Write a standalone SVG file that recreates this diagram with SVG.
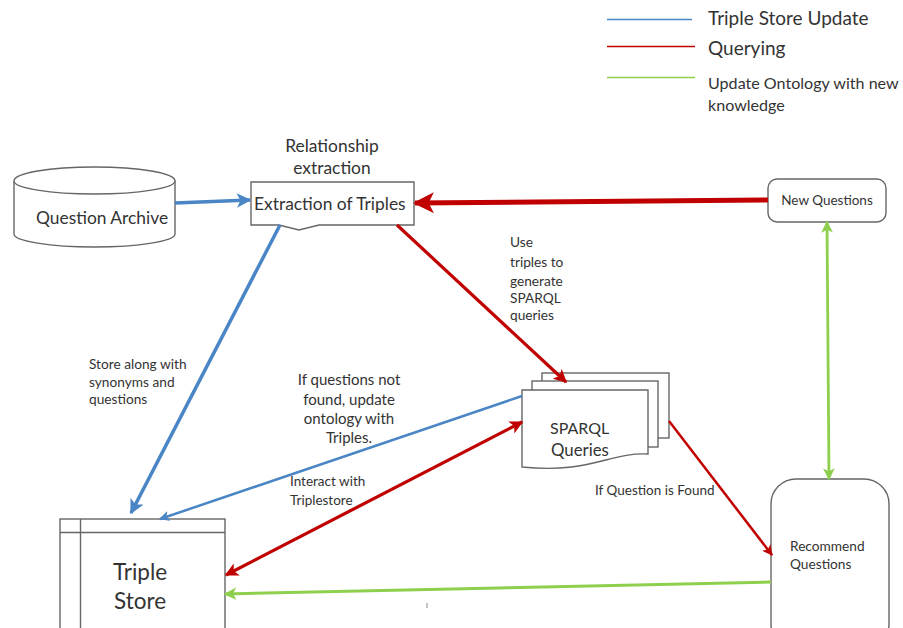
<svg xmlns="http://www.w3.org/2000/svg" width="903" height="628" viewBox="0 0 903 628">
<style>
text{font-family:"Lato","Carlito","Open Sans",sans-serif;fill:#333}
.n{fill:#fff;stroke:#666;stroke-width:1.4}
.c{fill:none}
.b{stroke:#4a86c5}.r{stroke:#c00000}.g{stroke:#8ed04e}
.leg{stroke-width:1.5}
.sm{font-size:13.7px}
.md{font-size:17.4px}
</style>
<defs>
<marker id="ab" viewBox="0 0 10 10" refX="9" refY="5" markerWidth="4.2" markerHeight="4.2" markerUnits="strokeWidth" orient="auto-start-reverse"><path d="M0 0L10 5L0 10L2.5 5Z" fill="#4a86c5"/></marker>
<marker id="ar" viewBox="0 0 10 10" refX="9" refY="5" markerWidth="4.2" markerHeight="4.2" markerUnits="strokeWidth" orient="auto-start-reverse"><path d="M0 0L10 5L0 10L2.5 5Z" fill="#c00000"/></marker>
<marker id="ag" viewBox="0 0 10 10" refX="9" refY="5" markerWidth="4.2" markerHeight="4.2" markerUnits="strokeWidth" orient="auto-start-reverse"><path d="M0 0L10 5L0 10L2.5 5Z" fill="#8ed04e"/></marker>
</defs>
<rect width="903" height="628" fill="#fff"/>
<g id="legend">
<line x1="607" y1="19.5" x2="692" y2="19.5" class="b leg"/>
<line x1="607" y1="46.5" x2="695" y2="46.5" class="r leg"/>
<line x1="607" y1="77.5" x2="695" y2="77.5" class="g leg"/>
<text x="708" y="25" style="font-size:19px">Triple Store Update</text>
<text x="708" y="55" style="font-size:19px">Querying</text>
<text x="708" y="89" style="font-size:16.1px">Update Ontology with new</text>
<text x="708" y="111" style="font-size:16.1px">knowledge</text>
</g>
<g id="question-archive">
<path class="n" d="M14 181C14 173 50 167 94.500 167C139 167 175 173 175 181V234C175 241 139 247 94.500 247C50 247 14 241 14 234Z"/>
<path class="n" d="M14 181C14 188 50 194 94.500 194C139 194 175 188 175 181"/>
<text x="36" y="224" class="md">Question Archive</text>
</g>
<g id="extraction-of-triples">
<path class="n" d="M251 182H414V225H319L299 230L279 225H251Z"/>
<text x="332" y="152" text-anchor="middle" class="md">Relationship</text>
<text x="332" y="174" text-anchor="middle" class="md">extraction</text>
<text x="254" y="210" class="md">Extraction of Triples</text>
</g>
<g id="new-questions">
<rect class="n" x="768" y="179" width="118" height="43" rx="9"/>
<text x="827" y="205" text-anchor="middle" style="font-size:13.5px">New Questions</text>
</g>
<g id="sparql-queries">
<rect class="n" x="542" y="373" width="127" height="65"/>
<rect class="n" x="532" y="381" width="126" height="66"/>
<path class="n" d="M522 390H648V454C610 452 590 474 522 467Z"/>
<text x="550" y="434" style="font-size:16px">SPARQL</text>
<text x="551" y="456" style="font-size:16.8px">Queries</text>
</g>
<g id="recommend-questions">
<rect class="n" x="771" y="479" width="118" height="170" rx="25"/>
<text x="790" y="551" class="sm">Recommend</text>
<text x="790" y="569" class="sm">Questions</text>
</g>
<g id="triple-store">
<rect class="n" x="60" y="519" width="165" height="125"/>
<line class="n" x1="60" y1="532.5" x2="225" y2="532.5"/>
<line class="n" x1="80.500" y1="519" x2="80.500" y2="628"/>
<text x="140" y="580" text-anchor="middle" style="font-size:22.5px">Triple</text>
<text x="140" y="609" text-anchor="middle" style="font-size:22.5px">Store</text>
</g>
<g id="connectors">
<line class="c b" x1="175" y1="203" x2="250" y2="200" stroke-width="3.5" marker-end="url(#ab)"/>
<line class="c r" x1="768" y1="200" x2="415" y2="203" stroke-width="5" marker-end="url(#ar)"/>
<line class="c b" x1="280" y1="225" x2="131" y2="513" stroke-width="3.5" marker-end="url(#ab)"/>
<line class="c r" x1="397" y1="225" x2="566" y2="382" stroke-width="3.2" marker-end="url(#ar)"/>
<line class="c b" x1="522" y1="396" x2="160" y2="519" stroke-width="2.5" marker-end="url(#ab)"/>
<line class="c r" x1="522" y1="422" x2="226" y2="575" stroke-width="3.2" marker-start="url(#ar)" marker-end="url(#ar)"/>
<line class="c r" x1="669" y1="421" x2="772" y2="555" stroke-width="2.5" marker-end="url(#ar)"/>
<line class="c g" x1="771" y1="582" x2="225" y2="594" stroke-width="3" marker-end="url(#ag)"/>
<line class="c g" x1="827" y1="222" x2="829" y2="479" stroke-width="2.8" marker-start="url(#ag)" marker-end="url(#ag)"/>
<line x1="427" y1="603" x2="427" y2="608" stroke="#888" stroke-width="1"/>
</g>
<g id="labels">
<text x="510" y="247" class="sm">Use</text>
<text x="510" y="267" class="sm">triples to</text>
<text x="510" y="286" class="sm">generate</text>
<text x="510" y="303" class="sm">SPARQL</text>
<text x="510" y="320" class="sm">queries</text>
<text x="89" y="369" class="sm">Store along with</text>
<text x="89" y="387" class="sm">synonyms and</text>
<text x="89" y="404" class="sm">questions</text>
<text x="349" y="385" text-anchor="middle" style="font-size:15px">If questions not</text>
<text x="349" y="405" text-anchor="middle" style="font-size:15px">found, update</text>
<text x="349" y="424" text-anchor="middle" style="font-size:15px">ontology with</text>
<text x="349" y="443" text-anchor="middle" style="font-size:15px">Triples.</text>
<text x="290" y="486" style="font-size:13.5px">Interact with</text>
<text x="290" y="505" style="font-size:13.5px">Triplestore</text>
<text x="595" y="495" style="font-size:13.5px">If Question is Found</text>
</g>
</svg>
